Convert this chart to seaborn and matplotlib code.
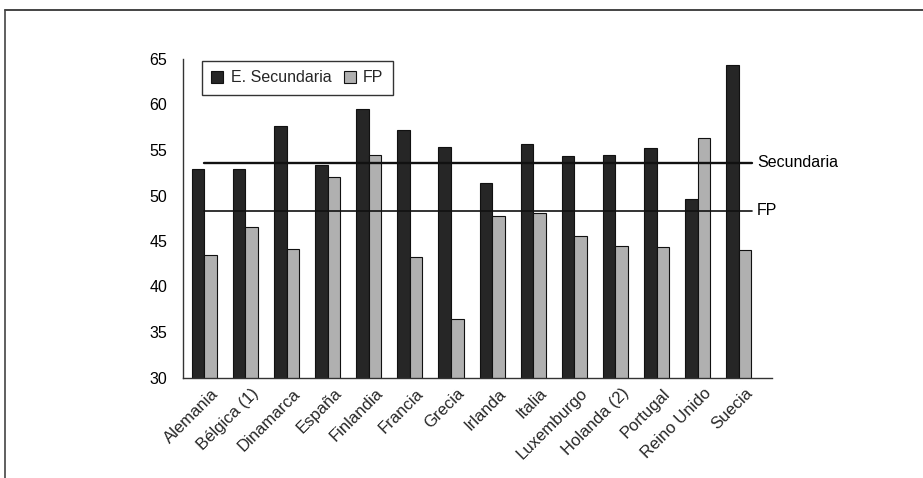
import matplotlib
matplotlib.use("Agg")
import matplotlib.pyplot as plt
import matplotlib.transforms as mtransforms
from matplotlib.lines import Line2D
import seaborn as sns
import pandas as pd

countries = ["Alemania", "Bélgica (1)", "Dinamarca", "España", "Finlandia", "Francia",
             "Grecia", "Irlanda", "Italia", "Luxemburgo", "Holanda (2)", "Portugal",
             "Reino Unido", "Suecia"]
secundaria = [52.9, 52.9, 57.6, 53.35, 59.5, 57.2, 55.3, 51.4, 55.7, 54.3, 54.5, 55.2, 49.6, 64.3]
fp = [43.5, 46.5, 44.1, 52.0, 54.45, 43.2, 36.4, 47.8, 48.1, 45.5, 44.4, 44.35, 56.3, 44.05]
series_names = ["E. Secundaria", "FP"]
ref_secundaria = 53.6
ref_fp = 48.3
ref_labels = ["Secundaria", "FP"]
yticks = [30, 35, 40, 45, 50, 55, 60, 65]

df = pd.DataFrame({
    "pais": countries * 2,
    "serie": [series_names[0]] * len(countries) + [series_names[1]] * len(countries),
    "valor": secundaria + fp,
})

sns.set_theme(style="white")
plt.rcParams["font.family"] = ["Liberation Sans", "DejaVu Sans"]

fig = plt.figure(figsize=(9.23, 4.78), dpi=100)
ax = fig.add_axes([183 / 923, 1 - 377.5 / 478, (772 - 183) / 923, (377.5 - 59) / 478])

sns.barplot(data=df, x="pais", y="valor", hue="serie", order=countries,
            hue_order=series_names, palette=["#262626", "#b0b0b0"],
            width=0.61, edgecolor="#111111", linewidth=0.8, saturation=1,
            ax=ax, zorder=2)

ax.set_ylim(30, 65)
ax.set_xlim(-0.52, 13.81)
ax.set_yticks(yticks)
ax.set_yticklabels([str(t) for t in yticks], fontsize=11.5, color="black")
ax.set_xlabel("")
ax.set_ylabel("")

# reference lines
ax.plot([0, 13.33], [ref_secundaria, ref_secundaria], color="#111111", lw=1.7, zorder=3)
ax.plot([0, 13.33], [ref_fp, ref_fp], color="#111111", lw=1.2, zorder=3)
ax.text(13.45, ref_secundaria, ref_labels[0], fontsize=11.5, va="center", ha="left", color="black")
ax.text(13.45, ref_fp, ref_labels[1], fontsize=11.5, va="center", ha="left", color="black")

for s in ["top", "right"]:
    ax.spines[s].set_visible(False)
for s in ["left", "bottom"]:
    ax.spines[s].set_color("#333333")
    ax.spines[s].set_linewidth(1.0)

ax.tick_params(axis="y", direction="out", length=7.2, width=1.0, color="#333333", pad=4)
ax.tick_params(axis="x", length=0, pad=6)
ax.set_xticks(range(len(countries)))
labels = ax.set_xticklabels(countries, rotation=45, ha="right", rotation_mode="anchor", fontsize=12)
offset = mtransforms.ScaledTranslation(6 / 100, 0, fig.dpi_scale_trans)
for lab in labels:
    lab.set_transform(lab.get_transform() + offset)

leg = ax.legend(loc="upper left", bbox_to_anchor=(0.032, 0.994), ncol=2, frameon=True,
                fancybox=False, edgecolor="black", fontsize=11.5, handlelength=0.75,
                handleheight=0.75, handletextpad=0.45, columnspacing=0.8,
                borderpad=0.6, borderaxespad=0.0, title=None)
leg.get_frame().set_linewidth(1.0)
leg.get_frame().set_facecolor("white")

# page frame (top and left edges)
fig.add_artist(Line2D([5 / 923, 1.0], [1 - 10 / 478, 1 - 10 / 478], color="#444444", lw=1.4))
fig.add_artist(Line2D([5 / 923, 5 / 923], [0, 1 - 10 / 478], color="#444444", lw=1.2))

fig.savefig("out.png", dpi=100, facecolor="white")
